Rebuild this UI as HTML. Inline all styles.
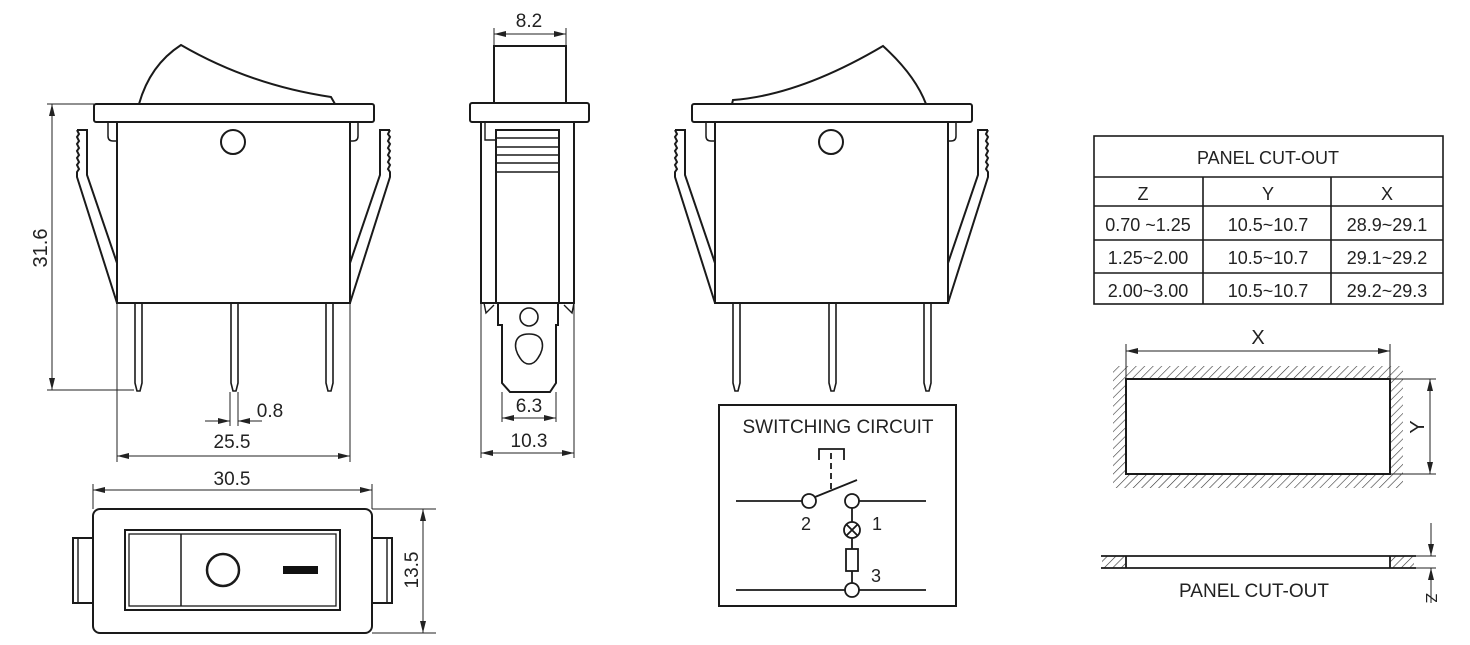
<!DOCTYPE html>
<html><head><meta charset="utf-8"><style>
html,body{margin:0;padding:0;background:#fff}
svg{display:block}
text{font-family:"Liberation Sans",sans-serif;fill:#222}
</style></head><body>
<svg width="1470" height="645" viewBox="0 0 1470 645" xmlns="http://www.w3.org/2000/svg">
<defs>
<marker id="a" viewBox="0 0 12 6" refX="12" refY="3" markerWidth="12" markerHeight="6" orient="auto-start-reverse" markerUnits="userSpaceOnUse"><path d="M0,0 L12,3 L0,6 z" fill="#222"/></marker>
<pattern id="h" width="6" height="6" patternUnits="userSpaceOnUse" patternTransform="rotate(45)"><line x1="0" y1="0" x2="0" y2="6" stroke="#333" stroke-width="1.2"/></pattern>
<g id="front" fill="none" stroke="#1a1a1a" stroke-width="2">
<rect x="94" y="104" width="280" height="18" rx="2" fill="#fff"/>
<rect x="117" y="122" width="233" height="181"/>
<path d="M108,122 v14 q0,5 5,5 h4 M358,122 v14 q0,5 -5,5 h-4" stroke-width="1.5"/>
<circle cx="233" cy="142" r="12"/>
<path d="M77,130 h10 v45 L117,263 M77,130 l2,4 -2,3 2,4 -2,3 2,4 -2,3 2,4 -2,3 2,4 -2,3 2,4 -2,3 v5 L117,303"/>
<path d="M390,130 h-10 v45 L350,263 M390,130 l-2,4 2,3 -2,4 2,3 -2,4 2,3 -2,4 2,3 -2,4 2,3 -2,4 2,3 v5 L350,303"/>
<g stroke-width="1.6">
<path d="M135,303 v80 l2,8 h3 l2,-8 v-80"/><path d="M231,303 v80 l2,8 h3 l2,-8 v-80"/><path d="M326,303 v80 l2,8 h3 l2,-8 v-80"/>
</g>
</g>
</defs>

<use href="#front"/>
<path d="M139,104 Q150,65 181,45 Q250,85 331,97 L335,104" fill="none" stroke="#1a1a1a" stroke-width="2"/>
<g stroke="#222" stroke-width="1" fill="none">
<line x1="47" y1="104" x2="94" y2="104"/><line x1="47" y1="390" x2="134" y2="390"/>
<line x1="52" y1="104" x2="52" y2="390" marker-start="url(#a)" marker-end="url(#a)"/>
<line x1="230" y1="392" x2="230" y2="426"/><line x1="238" y1="392" x2="238" y2="426"/>
<line x1="205" y1="421" x2="230" y2="421" marker-end="url(#a)"/><line x1="262" y1="421" x2="238" y2="421" marker-end="url(#a)"/>
<line x1="117" y1="303" x2="117" y2="462"/><line x1="350" y1="303" x2="350" y2="462"/>
<line x1="117" y1="456" x2="350" y2="456" marker-start="url(#a)" marker-end="url(#a)"/>
</g>
<text font-size="20" text-anchor="middle" transform="translate(47,248) rotate(-90)">31.6</text>
<text x="270" y="417" font-size="19" text-anchor="middle">0.8</text>
<text x="232" y="448" font-size="19" text-anchor="middle">25.5</text>

<g fill="none" stroke="#1a1a1a" stroke-width="2">
<rect x="494" y="46" width="72" height="57"/>
<rect x="470" y="103" width="119" height="19" rx="2" fill="#fff"/>
<rect x="481" y="122" width="93" height="181"/>
<path d="M496,303 V130 H559 V303"/>
<path d="M485,122 V140 H496" stroke-width="1.4"/>
<path d="M496,138 H559 M496,147 H559 M496,155 H559 M496,163 H559 M496,172 H559" stroke-width="1.6"/>
<path d="M498,303 V325 H502 V383 L510,392 H550 L556,383 V325 H558 V303" />
<path d="M484,303 l2,10 l8,-8 M574,303 l-2,10 l-8,-8" stroke-width="1.4"/>
<circle cx="529" cy="317" r="9" stroke-width="1.6"/>
<path d="M529,334 C545,334 545,348 538,358 C533,366 525,366 520,358 C513,348 513,334 529,334 z" stroke-width="1.6"/>
</g>
<g stroke="#222" stroke-width="1" fill="none">
<line x1="494" y1="28" x2="494" y2="46"/><line x1="566" y1="28" x2="566" y2="46"/>
<line x1="494" y1="34" x2="566" y2="34" marker-start="url(#a)" marker-end="url(#a)"/>
<line x1="502" y1="392" x2="502" y2="422"/><line x1="556" y1="392" x2="556" y2="422"/>
<line x1="502" y1="418" x2="556" y2="418" marker-start="url(#a)" marker-end="url(#a)"/>
<line x1="481" y1="303" x2="481" y2="458"/><line x1="574" y1="303" x2="574" y2="458"/>
<line x1="481" y1="453" x2="574" y2="453" marker-start="url(#a)" marker-end="url(#a)"/>
</g>
<text x="529" y="27" font-size="19" text-anchor="middle">8.2</text>
<text x="529" y="412" font-size="19" text-anchor="middle">6.3</text>
<text x="529" y="447" font-size="19" text-anchor="middle">10.3</text>

<use href="#front" transform="translate(598,0)"/>
<path d="M732,104 L733,100 Q800,95 883,46 Q915,75 926,104" fill="none" stroke="#1a1a1a" stroke-width="2"/>

<g fill="none" stroke="#1a1a1a" stroke-width="2">
<rect x="73" y="538" width="20" height="65"/><line x1="78" y1="538" x2="78" y2="603" stroke-width="1.4"/>
<rect x="372" y="538" width="20" height="65"/><line x1="387" y1="538" x2="387" y2="603" stroke-width="1.4"/>
<rect x="93" y="509" width="279" height="124" rx="7" fill="#fff"/>
<rect x="125" y="530" width="215" height="80"/>
<rect x="129" y="534" width="207" height="72" stroke-width="1.3"/>
<line x1="181" y1="534" x2="181" y2="606" stroke-width="1.5"/>
<circle cx="223" cy="570" r="16" stroke-width="2.5"/>
</g>
<rect x="283" y="566" width="35" height="8" fill="#111"/>
<g stroke="#222" stroke-width="1" fill="none">
<line x1="93" y1="484" x2="93" y2="509"/><line x1="372" y1="484" x2="372" y2="509"/>
<line x1="93" y1="490" x2="372" y2="490" marker-start="url(#a)" marker-end="url(#a)"/>
<line x1="372" y1="509" x2="436" y2="509"/><line x1="372" y1="633" x2="436" y2="633"/>
<line x1="423" y1="509" x2="423" y2="633" marker-start="url(#a)" marker-end="url(#a)"/>
</g>
<text x="232" y="485" font-size="19" text-anchor="middle">30.5</text>
<text font-size="19" text-anchor="middle" transform="translate(418,570) rotate(-90)">13.5</text>

<rect x="719" y="405" width="237" height="201" fill="none" stroke="#1a1a1a" stroke-width="2"/>
<text x="838" y="433" font-size="19" text-anchor="middle">SWITCHING CIRCUIT</text>
<g stroke="#1a1a1a" stroke-width="1.8" fill="none">
<line x1="736" y1="501" x2="802" y2="501"/><line x1="859" y1="501" x2="926" y2="501"/>
<circle cx="809" cy="501" r="7"/><circle cx="852" cy="501" r="7"/>
<line x1="815" y1="497" x2="857" y2="480"/>
<line x1="831" y1="453" x2="831" y2="489" stroke-dasharray="6,4"/>
<path d="M819,460 V449 H844 V460"/>
<line x1="852" y1="508" x2="852" y2="522"/>
<circle cx="852" cy="530" r="8"/>
<path d="M846,524 L858,536 M858,524 L846,536"/>
<line x1="852" y1="538" x2="852" y2="549"/>
<rect x="846" y="549" width="12" height="22"/>
<line x1="852" y1="571" x2="852" y2="583"/>
<line x1="736" y1="590" x2="926" y2="590"/>
<circle cx="852" cy="590" r="7" fill="#fff"/>
</g>
<text x="806" y="530" font-size="18" text-anchor="middle">2</text>
<text x="877" y="530" font-size="18" text-anchor="middle">1</text>
<text x="876" y="582" font-size="18" text-anchor="middle">3</text>

<g stroke="#1a1a1a" stroke-width="1.6" fill="none">
<rect x="1094" y="136" width="349" height="168"/>
<line x1="1094" y1="177" x2="1443" y2="177"/>
<line x1="1094" y1="206" x2="1443" y2="206"/>
<line x1="1094" y1="240" x2="1443" y2="240"/>
<line x1="1094" y1="273" x2="1443" y2="273"/>
<line x1="1203" y1="177" x2="1203" y2="304"/>
<line x1="1331" y1="177" x2="1331" y2="304"/>
</g>
<g font-size="18" text-anchor="middle">
<text x="1268" y="164">PANEL CUT-OUT</text>
<text x="1143" y="200">Z</text><text x="1268" y="200">Y</text><text x="1387" y="200">X</text>
<text x="1148" y="231">0.70 ~1.25</text><text x="1268" y="231">10.5~10.7</text><text x="1387" y="231">28.9~29.1</text>
<text x="1148" y="264">1.25~2.00</text><text x="1268" y="264">10.5~10.7</text><text x="1387" y="264">29.1~29.2</text>
<text x="1148" y="297">2.00~3.00</text><text x="1268" y="297">10.5~10.7</text><text x="1387" y="297">29.2~29.3</text>
</g>

<path d="M1113,366 H1403 V488 H1113 Z M1126,379 V474 H1390 V379 Z" fill="url(#h)" fill-rule="evenodd"/>
<rect x="1126" y="379" width="264" height="95" fill="#fff" stroke="#1a1a1a" stroke-width="2"/>
<g stroke="#222" stroke-width="1" fill="none">
<line x1="1126" y1="344" x2="1126" y2="379"/><line x1="1390" y1="344" x2="1390" y2="379"/>
<line x1="1126" y1="351" x2="1390" y2="351" marker-start="url(#a)" marker-end="url(#a)"/>
<line x1="1390" y1="379" x2="1436" y2="379"/><line x1="1390" y1="474" x2="1436" y2="474"/>
<line x1="1430" y1="379" x2="1430" y2="474" marker-start="url(#a)" marker-end="url(#a)"/>
</g>
<text x="1258" y="344" font-size="20" text-anchor="middle">X</text>
<text font-size="20" text-anchor="middle" transform="translate(1424,427) rotate(-90)">Y</text>

<rect x="1102" y="556" width="24" height="12" fill="url(#h)"/>
<rect x="1390" y="556" width="24" height="12" fill="url(#h)"/>
<g stroke="#1a1a1a" stroke-width="1.8" fill="none">
<line x1="1101" y1="556" x2="1416" y2="556"/><line x1="1101" y1="568" x2="1416" y2="568"/>
<line x1="1126" y1="556" x2="1126" y2="568"/><line x1="1390" y1="556" x2="1390" y2="568"/>
</g>
<g stroke="#222" stroke-width="1" fill="none">
<line x1="1416" y1="556" x2="1436" y2="556"/><line x1="1416" y1="568" x2="1436" y2="568"/>
<line x1="1431" y1="523" x2="1431" y2="556" marker-end="url(#a)"/>
<line x1="1431" y1="603" x2="1431" y2="568" marker-end="url(#a)"/>
</g>
<text x="1254" y="597" font-size="19" text-anchor="middle">PANEL CUT-OUT</text>
<text font-size="16" text-anchor="middle" transform="translate(1426,598) rotate(90)">Z</text>
</svg>
</body></html>
